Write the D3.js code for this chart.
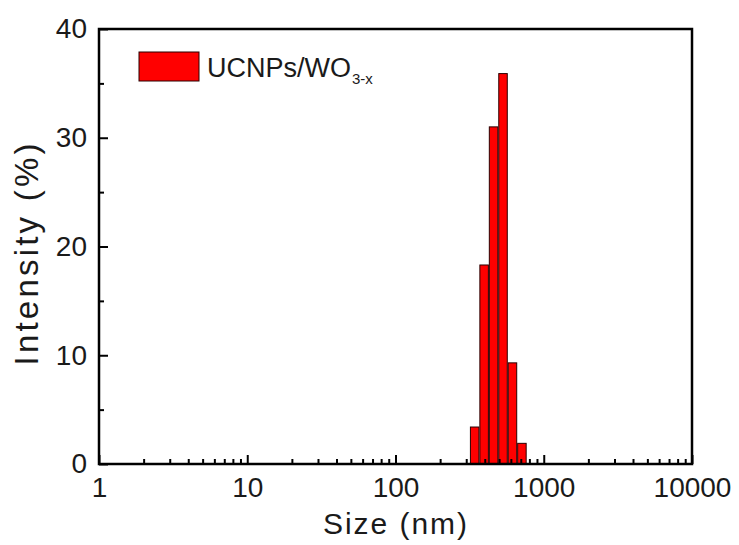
<!DOCTYPE html>
<html>
<head>
<meta charset="utf-8">
<script src="https://cdn.jsdelivr.net/npm/d3@7"></script>
<style>
  body { margin: 0; background: #fff; }
  text { font-family: Arial, "Liberation Sans", sans-serif; fill: #1a1a1a; }
</style>
</head>
<body>
<div id="root"></div>
<script>
const width = 739;
const height = 545;
const margin = { top: 29, right: 47, bottom: 81, left: 99 };

// bin centres (nm) and intensity (%)
const sizes = [342, 396.1, 458.7, 531.2, 615.1, 712.4];
const intensity = [3.4, 18.3, 31.0, 35.9, 9.3, 1.9];
const xMajor = [1, 10, 100, 1000, 10000];
const yMajor = [0, 10, 20, 30, 40];
const yMinor = [5, 15, 25, 35];
const seriesName = "UCNPs/WO";
const seriesSub = "3-x";

const bins = sizes.map((s, i) => ({ size: s, value: intensity[i] }));
const binRatio = sizes[1] / sizes[0];

const x = d3.scaleLog()
	.domain([1, 10000])
	.range([margin.left, width - margin.right]);
const y = d3.scaleLinear()
	.domain([0, 40])
	.range([height - margin.bottom, margin.top]);

const svg = d3.select("#root")
	.append("svg")
		.attr("width", width)
		.attr("height", height);

// bars
svg.selectAll(".bar")
	.data(bins).enter()
	.append("rect")
		.attr("class", "bar")
		.attr("x", d => x(d.size / Math.pow(binRatio, 0.45)))
		.attr("width", d => x(d.size * Math.pow(binRatio, 0.45)) - x(d.size / Math.pow(binRatio, 0.45)))
		.attr("y", d => y(d.value))
		.attr("height", d => y(0) - y(d.value))
		.style("fill", "#f00")
		.style("stroke", "#2a0000")
		.style("stroke-width", 1);

// minor ticks on log axis (2..9 of each decade)
const xMinor = [];
for (let dec = 1; dec < 10000; dec *= 10) {
	for (let m = 2; m <= 9; m++) xMinor.push(dec * m);
}

svg.append("g")
	.attr("transform", `translate(0,${y(0)})`)
	.call(d3.axisBottom(x)
		.tickValues(xMajor)
		.tickFormat(d3.format("d"))
		.tickSize(-9)
		.tickPadding(13));
svg.append("g")
	.attr("transform", `translate(0,${y(0)})`)
	.call(d3.axisBottom(x)
		.tickValues(xMinor)
		.tickFormat("")
		.tickSize(-5));

svg.append("g")
	.attr("transform", `translate(${x(1)},0)`)
	.call(d3.axisLeft(y)
		.tickValues(yMajor)
		.tickSize(-9)
		.tickPadding(12));
svg.append("g")
	.attr("transform", `translate(${x(1)},0)`)
	.call(d3.axisLeft(y)
		.tickValues(yMinor)
		.tickFormat("")
		.tickSize(-5));

svg.selectAll(".domain").remove();
svg.selectAll(".tick line")
	.style("stroke", "#000")
	.style("stroke-width", 2);
svg.selectAll(".tick text")
	.style("font-size", "28px")
	.style("fill", "#1a1a1a");

// frame
svg.append("rect")
	.attr("x", x(1))
	.attr("y", y(40))
	.attr("width", x(10000) - x(1))
	.attr("height", y(0) - y(40))
	.style("fill", "none")
	.style("stroke", "#000")
	.style("stroke-width", 2.5);

// axis titles
svg.append("text")
	.text("Size (nm)")
	.attr("x", 395)
	.attr("y", 534)
	.attr("text-anchor", "middle")
	.attr("textLength", 144)
	.attr("lengthAdjust", "spacing")
	.style("font-size", "30px");

svg.append("text")
	.text("Intensity (%)")
	.attr("transform", `translate(38,${(y(0) + y(40)) / 2 + 8}) rotate(-90)`)
	.attr("text-anchor", "middle")
	.attr("textLength", 222)
	.attr("lengthAdjust", "spacing")
	.style("font-size", "33px");

// legend
const legend = svg.append("g").attr("transform", "translate(139,52)");
legend.append("rect")
	.attr("width", 60)
	.attr("height", 29)
	.style("fill", "#f00")
	.style("stroke", "#2a0000")
	.style("stroke-width", 1);
const label = legend.append("text")
	.attr("x", 68)
	.attr("y", 25)
	.style("font-size", "27px");
label.append("tspan").text(seriesName);
label.append("tspan")
	.text(seriesSub)
	.attr("dy", 7)
	.attr("dx", 1)
	.style("font-size", "15px");
</script>
</body>
</html>
